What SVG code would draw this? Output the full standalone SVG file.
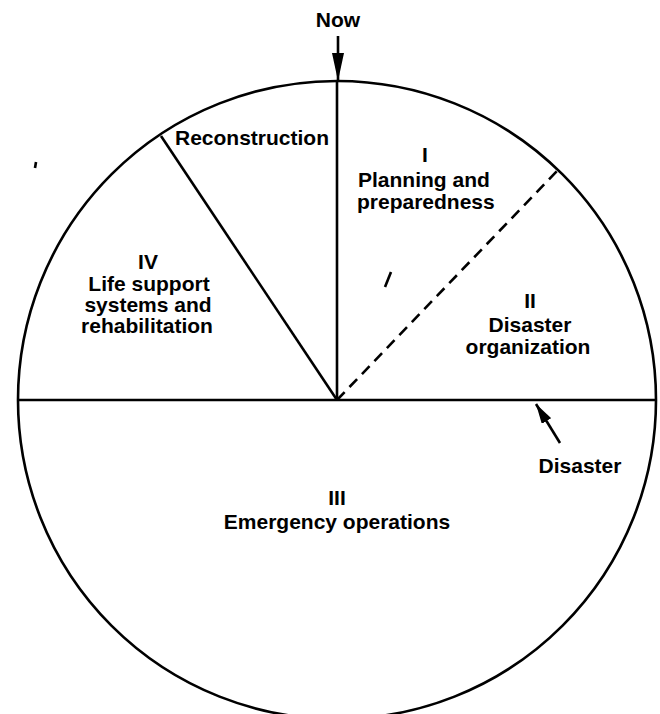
<svg xmlns="http://www.w3.org/2000/svg" width="660" height="714" viewBox="0 0 660 714">
  <style>
    .ln { stroke: #000; stroke-width: 2.6; fill: none; }
    .t { font-family: "Liberation Sans", Arial, sans-serif; font-weight: bold; font-size: 21px; fill: #000; }
    .m { text-anchor: middle; }
  </style>
  <defs>
    <marker id="bigHead" viewBox="0 0 28 12" refX="28" refY="6" markerWidth="28" markerHeight="12" markerUnits="userSpaceOnUse" orient="auto">
      <path d="M0,0 L28,6 L0,12 z" fill="#000"/>
    </marker>
    <marker id="smallHead" viewBox="0 0 20 11" refX="20" refY="5.5" markerWidth="20" markerHeight="11" markerUnits="userSpaceOnUse" orient="auto">
      <path d="M0,0 L20,5.5 L0,11 z" fill="#000"/>
    </marker>
  </defs>
  <rect width="660" height="714" fill="#fff"/>

  <g id="wheel">
    <circle class="ln" cx="337" cy="400" r="319"/>
    <line class="ln" x1="18" y1="400" x2="656" y2="400"/>
    <line class="ln" x1="337" y1="81" x2="337" y2="400"/>
    <line class="ln" x1="161" y1="136" x2="337" y2="400"/>
    <line class="ln" x1="337" y1="400" x2="558" y2="170" stroke-dasharray="11 7"/>
    <line class="ln" x1="385" y1="287" x2="391" y2="272" stroke-width="2"/>
    <line class="ln" x1="36" y1="162" x2="35" y2="168" stroke-width="1.5"/>
  </g>

  <g id="connectors">
    <line class="ln" x1="338" y1="36" x2="338" y2="81" stroke-width="3" marker-end="url(#bigHead)"/>
    <line class="ln" x1="560" y1="443" x2="536" y2="404" stroke-width="2.6" marker-end="url(#smallHead)"/>
  </g>

  <g id="now">
    <text class="t m" x="338" y="27">Now</text>
  </g>
  <g id="reconstruction">
    <text class="t" x="175" y="145">Reconstruction</text>
  </g>
  <g id="phase-1">
    <text class="t m" x="425" y="162">I</text>
    <text class="t" x="358" y="187">Planning and</text>
    <text class="t" x="357" y="209">preparedness</text>
  </g>
  <g id="phase-2">
    <text class="t m" x="530" y="308">II</text>
    <text class="t m" x="530" y="332">Disaster</text>
    <text class="t m" x="528" y="354">organization</text>
  </g>
  <g id="phase-3">
    <text class="t m" x="337" y="505">III</text>
    <text class="t m" x="337" y="529">Emergency operations</text>
  </g>
  <g id="phase-4">
    <text class="t m" x="148" y="269">IV</text>
    <text class="t m" x="149" y="291">Life support</text>
    <text class="t m" x="148" y="312">systems and</text>
    <text class="t m" x="147" y="333">rehabilitation</text>
  </g>
  <g id="disaster">
    <text class="t m" x="580" y="473">Disaster</text>
  </g>
</svg>
